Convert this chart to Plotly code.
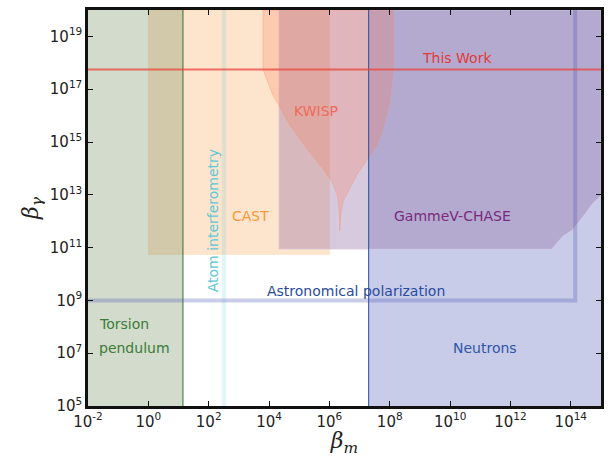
import plotly.graph_objects as go

# ---------------- data ----------------
X_MIN, X_MAX = 1e-2, 1e15
Y_MIN, Y_MAX = 1e5, 1e20

torsion_bm_max = 14.0
cast_bm = [1.0, 1.0e6]
cast_bg_min = 5.5e10
atom_bm = [270.0, 380.0]
neutrons_bm_min = 2.0e7
astro_bg_min = 1.0e9
astro_bm_max = 1.4e14
this_work_bg = 5.6e17

gammev_bm = [2.1e4, 2.1e4, 1e15, 1e15, 9.1e14, 5.0e14, 3.0e14, 1.7e14, 1.2e14, 5.5e13, 2.3e13, 2.1e4]
gammev_bg = [8.7e10, 1e20, 1e20, 9.0e12, 8.5e12, 4.3e12, 1.9e12, 8.3e11, 4.9e11, 2.7e11, 8.7e10, 8.7e10]

kwisp_bm = [6.3e3, 6.3e3, 1.35e4, 4.9e4, 1.8e5, 6.2e5, 1.2e6, 1.8e6, 2.1e6, 2.2e6,
            2.4e6, 2.8e6, 4.2e6, 8.1e6, 1.9e7, 3.8e7, 5.9e7, 1.0e8, 1.3e8, 1.3e8, 6.3e3]
kwisp_bg = [1e20, 5.5e17, 5.9e16, 4.4e15, 5.5e14, 9.5e13, 3.2e13, 1.0e13, 2.3e12, 4.2e11,
            1.8e12, 5.5e12, 1.3e13, 5.8e13, 2.3e14, 7.8e14, 3.1e15, 3.2e16, 5.5e17, 1e20, 1e20]

x_tickvals = [1e-2, 1e0, 1e2, 1e4, 1e6, 1e8, 1e10, 1e12, 1e14]
x_ticktext = ["10<sup>-2</sup>", "10<sup>0</sup>", "10<sup>2</sup>", "10<sup>4</sup>", "10<sup>6</sup>",
              "10<sup>8</sup>", "10<sup>10</sup>", "10<sup>12</sup>", "10<sup>14</sup>"]
y_tickvals = [1e5, 1e7, 1e9, 1e11, 1e13, 1e15, 1e17, 1e19]
y_ticktext = ["10<sup>5</sup>", "10<sup>7</sup>", "10<sup>9</sup>", "10<sup>11</sup>", "10<sup>13</sup>",
              "10<sup>15</sup>", "10<sup>17</sup>", "10<sup>19</sup>"]

# ---------------- figure ----------------
fig = go.Figure()

def rect(x0, x1, y0, y1, fill, line_color="rgba(0,0,0,0)", lw=0):
    fig.add_trace(go.Scatter(x=[x0, x1, x1, x0, x0], y=[y0, y0, y1, y1, y0], mode="lines",
                             fill="toself", fillcolor=fill, line=dict(color=line_color, width=lw),
                             hoverinfo="skip", showlegend=False))

# CAST
rect(cast_bm[0], cast_bm[1], cast_bg_min, Y_MAX, "rgba(248,168,88,0.30)", "rgba(248,168,88,0.15)", 1)
# Torsion pendulum
rect(X_MIN, torsion_bm_max, Y_MIN, Y_MAX, "rgba(108,135,85,0.30)")
# Atom interferometry
rect(atom_bm[0], atom_bm[1], Y_MIN, Y_MAX, "rgba(90,190,210,0.16)")
# Neutrons
rect(neutrons_bm_min, X_MAX, Y_MIN, Y_MAX, "rgba(72,85,178,0.30)")
# GammeV-CHASE
fig.add_trace(go.Scatter(x=gammev_bm, y=gammev_bg, mode="lines", fill="toself",
                         fillcolor="rgba(144,104,161,0.35)", line=dict(color="rgba(230,215,235,0.5)", width=1),
                         hoverinfo="skip", showlegend=False))
# KWISP
fig.add_trace(go.Scatter(x=kwisp_bm, y=kwisp_bg, mode="lines", fill="toself",
                         fillcolor="rgba(249,117,81,0.24)", line=dict(color="rgba(249,140,110,0.35)", width=1),
                         hoverinfo="skip", showlegend=False))

# Torsion edge
fig.add_trace(go.Scatter(x=[torsion_bm_max, torsion_bm_max], y=[Y_MIN, Y_MAX], mode="lines",
                         line=dict(color="#2a7030", width=1), hoverinfo="skip", showlegend=False))
# Neutrons edge
fig.add_trace(go.Scatter(x=[neutrons_bm_min, neutrons_bm_min], y=[Y_MIN, Y_MAX], mode="lines",
                         line=dict(color="#2b4c9b", width=1), hoverinfo="skip", showlegend=False))
# Astronomical polarization boundary
fig.add_trace(go.Scatter(x=[X_MIN, astro_bm_max, astro_bm_max], y=[astro_bg_min, astro_bg_min, Y_MAX],
                         mode="lines", line=dict(color="rgba(80,90,180,0.30)", width=4),
                         hoverinfo="skip", showlegend=False))
# This work
fig.add_trace(go.Scatter(x=[X_MIN, X_MAX], y=[this_work_bg, this_work_bg], mode="lines",
                         line=dict(color="rgba(232,70,60,0.75)", width=2), hoverinfo="skip", showlegend=False))

F = "DejaVu Sans"
def label(text, x, y, color, xanchor="center", angle=0):
    fig.add_annotation(text=text, x=x, y=y, xref="x", yref="y", showarrow=False,
                       font=dict(family=F, size=14, color=color), xanchor=xanchor, yanchor="middle",
                       textangle=angle)

label("This Work", 10.23, 18.2, "#e03a3a")
label("KWISP", 5.55, 16.17, "#ee6a5a")
label("CAST", 3.37, 12.18, "#f7993a")
label("GammeV-CHASE", 10.09, 12.18, "#7a2a7e")
label("Atom interferometry", 2.14, 12.03, "#62c6d6", angle=-90)
label("Astronomical polarization", 6.88, 9.36, "#2a4aa0")
label("Torsion", -1.70, 8.12, "#3a7d3a", xanchor="left")
label("pendulum", -1.70, 7.18, "#3a7d3a", xanchor="left")
label("Neutrons", 11.15, 7.18, "#2f55a8")

axis_common = dict(type="log", showline=True, linewidth=2.5, linecolor="#111", mirror="ticks",
                   ticks="inside", ticklen=5, tickwidth=1, tickcolor="#111", showgrid=False,
                   zeroline=False, tickfont=dict(family=F, size=15, color="#222"))

fig.update_xaxes(range=[-2, 15], tickvals=x_tickvals, ticktext=x_ticktext,
                 title=dict(text="<i>β</i><sub><i>m</i></sub>", font=dict(family="DejaVu Serif", size=22, color="#222"),
                            standoff=4), **axis_common)
fig.update_yaxes(range=[5, 20], tickvals=y_tickvals, ticktext=y_ticktext,
                 title=dict(text="<i>β</i><sub><i>γ</i></sub>", font=dict(family="DejaVu Serif", size=22, color="#222"),
                            standoff=6), **axis_common)

fig.update_layout(width=616, height=457, margin=dict(l=88, r=15, t=7, b=51),
                  plot_bgcolor="white", paper_bgcolor="white", showlegend=False)

fig.write_html("out.html", config={"displayModeBar": False},
               post_script="document.body.style.margin='0px';")
